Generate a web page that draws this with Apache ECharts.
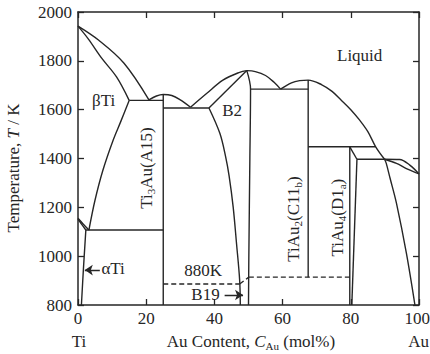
<!DOCTYPE html>
<html>
<head>
<meta charset="utf-8">
<script src="https://cdn.jsdelivr.net/npm/echarts@6/dist/echarts.min.js"></script>
<style>
  html, body { margin: 0; padding: 0; background: #fff; }
  #chart { width: 430px; height: 354px; }
</style>
</head>
<body>
<div id="chart"></div>
<script>
(() => {
  // phase boundaries, [Au mol%, T in K]
  const tiLiquidus = [[0, 1942], [6, 1885], [13.5, 1790], [20.8, 1640]];
  const tiSolidus = [[0, 1942], [3, 1890], [7, 1810], [11.3, 1734], [15, 1638]];
  const betaTransus = [[15, 1638], [12.5, 1550], [10.3, 1475], [7.3, 1352], [5, 1230], [3.2, 1107]];
  const peritecticBeta = [[15, 1638], [25, 1638]];
  const a15Liquidus = [[20.8, 1640], [23, 1656], [25, 1662], [27.5, 1658], [30, 1640], [33, 1610]];
  const a15Line = [[25, 1662], [25, 800]];
  const eutecticA15B2 = [[25, 1607], [38.4, 1607]];
  const b2LiquidusLeft = [[33, 1610], [37.7, 1666], [42.5, 1721], [47.4, 1753], [49.5, 1760]];
  const b2SolidusLeft = [[38.4, 1607], [49.5, 1760]];
  const b2LeftBoundary = [[38.4, 1607], [41.6, 1503], [43.3, 1407], [44.3, 1330], [45.5, 1202], [46.5, 1050], [47.4, 903], [47.6, 800]];
  const b2RightBoundary = [[49.5, 1760], [50.6, 1684], [50.4, 1400], [50.1, 1000], [50, 800]];
  const b2LiquidusRight = [[49.5, 1760], [52, 1756], [55, 1740], [57.5, 1712], [59.4, 1684]];
  const eutecticB2C11 = [[50.6, 1684], [67.5, 1684]];
  const c11Liquidus = [[59.4, 1684], [62.6, 1710], [65, 1719], [67.5, 1721], [71.5, 1702], [74.5, 1675], [77.2, 1639], [80, 1600], [82.6, 1557], [85, 1510], [87.3, 1448], [89.9, 1397]];
  const c11Line = [[67.5, 1721], [67.5, 914]];
  const peritecticD1a = [[67.5, 1448], [87.3, 1448]];
  const d1aLeft = [[79.7, 1448], [79.7, 800]];
  const d1aTop = [[79.7, 1448], [81.8, 1397]];
  const d1aRight = [[81.8, 1397], [80.3, 800]];
  const peritecticAu = [[81.8, 1397], [89.9, 1397]];
  const auSolvus = [[89.9, 1397], [90.4, 1380], [91.5, 1320], [93.4, 1216], [96.3, 1012], [98.8, 800]];
  const auLiquidus = [[89.9, 1397], [94.3, 1396], [97.3, 1373], [100, 1337]];
  const auSolidus = [[89.9, 1397], [93.4, 1380], [96.3, 1359], [100, 1337]];
  const alphaBetaUpper = [[0, 1155], [1.5, 1132], [3.2, 1107]];
  const alphaBetaLower = [[0, 1152], [1.2, 1128], [2.3, 1107]];
  const eutectoid = [[2.3, 1107], [25, 1107]];
  const alphaSolvus = [[2.3, 1107], [1.6, 950], [1, 800]];
  const b19Transition = [[25, 886], [47.4, 886]];
  const c11Transition = [[50.1, 914], [79.7, 914]];
  const b19Link = [[47.4, 886], [50.1, 914]];

  const xTicks = [0, 20, 40, 60, 80, 100];
  const yTicks = [800, 1000, 1200, 1400, 1600, 1800, 2000];

  const solidCurves = [tiLiquidus, tiSolidus, betaTransus, a15Liquidus, b2LiquidusLeft, b2LeftBoundary,
    b2RightBoundary, b2LiquidusRight, c11Liquidus, auSolvus, auLiquidus, auSolidus, alphaBetaUpper,
    alphaBetaLower, alphaSolvus];
  const solidLines = [peritecticBeta, a15Line, eutecticA15B2, b2SolidusLeft, eutecticB2C11, c11Line,
    peritecticD1a, d1aLeft, d1aTop, d1aRight, peritecticAu, eutectoid];
  const dashedLines = [b19Transition, c11Transition, b19Link];

  // text anchors in data coordinates
  const phaseLabels = [
    { at: [82.6, 1823], text: "{n|Liquid}" },
    { at: [7.5, 1639], text: "{n|βTi}" },
    { at: [45.2, 1598], text: "{n|B2}" },
    { at: [36.7, 943], text: "{n|880K}" },
    { at: [37.4, 845], text: "{n|B19}" },
    { at: [10.3, 951], text: "{n|αTi}" },
    { at: [20.2, 1361], text: "{n|Ti}{s|3}{n|Au(A15)}", rotate: 90 },
    { at: [63.3, 1152], text: "{n|TiAu}{s|2}{n|(C11}{s|b}{n|)}", rotate: 90 },
    { at: [76.2, 1158], text: "{n|TiAu}{s|4}{n|(D1}{s|a}{n|)}", rotate: 90 }
  ];
  const arrows = [
    [[6.4, 943], [2.0, 943]],
    [[43.0, 841], [48.4, 841]]
  ];

  const ink = "#262626";
  const font = "Liberation Serif";
  const rich = {
    n: { fontFamily: font, fontSize: 17, fill: ink },
    s: { fontFamily: font, fontSize: 11, fill: ink, padding: [9, 0, 0, 0] },
    i: { fontFamily: font, fontSize: 17, fill: ink, fontStyle: "italic" }
  };

  function lineSeries(data, smooth, dashed) {
    return {
      type: "line",
      data: data,
      smooth: smooth ? 0.35 : false,
      showSymbol: false,
      symbol: "none",
      silent: true,
      clip: true,
      lineStyle: { color: ink, width: 1.4, type: dashed ? [5, 3] : "solid" }
    };
  }

  const series = [];
  solidCurves.forEach((d) => series.push(lineSeries(d, true, false)));
  solidLines.forEach((d) => series.push(lineSeries(d, false, false)));
  dashedLines.forEach((d) => series.push(lineSeries(d, false, true)));

  series.push({
    type: "lines",
    coordinateSystem: "cartesian2d",
    silent: true,
    symbol: ["none", "arrow"],
    symbolSize: [7, 8],
    lineStyle: { color: ink, width: 1.4, opacity: 1 },
    data: arrows.map((a) => ({ coords: a }))
  });

  const axisBase = {
    type: "value",
    axisLine: { show: true, onZero: false, lineStyle: { color: ink, width: 1.5 } },
    axisTick: { show: true, inside: true, length: 6, lineStyle: { color: ink, width: 1.3 } },
    axisLabel: { show: false },
    splitLine: { show: false }
  };

  const chart = echarts.init(document.getElementById("chart"), null, { renderer: "svg" });
  chart.setOption({
    animation: false,
    backgroundColor: "#fff",
    grid: { left: 78, right: 11, top: 12, bottom: 49 },
    xAxis: [
      Object.assign({}, axisBase, { min: xTicks[0], max: xTicks[xTicks.length - 1], interval: 20, position: "bottom" }),
      Object.assign({}, axisBase, { min: xTicks[0], max: xTicks[xTicks.length - 1], interval: 20, position: "top" })
    ],
    yAxis: [
      Object.assign({}, axisBase, { min: yTicks[0], max: yTicks[yTicks.length - 1], interval: 200, position: "left" }),
      Object.assign({}, axisBase, { min: yTicks[0], max: yTicks[yTicks.length - 1], interval: 200, position: "right" })
    ],
    series: series
  });

  // all text drawn as graphic text, placed through the chart's own scales
  function textAt(x, y, text, align, rotation) {
    return {
      type: "text", x: x, y: y, rotation: rotation || 0, silent: true,
      style: { text: text, rich: rich, align: align || "center", verticalAlign: "middle" }
    };
  }
  const toPx = (point) => chart.convertToPixel({ xAxisIndex: 0, yAxisIndex: 0 }, point);
  const plotBottom = toPx([0, yTicks[0]])[1];
  const plotLeft = toPx([xTicks[0], yTicks[0]])[0];

  const texts = [];
  xTicks.forEach((v, i) => {
    const last = i === xTicks.length - 1;
    // the last label is pulled in so it stays inside the picture
    texts.push(textAt(last ? 430 : toPx([v, yTicks[0]])[0], plotBottom + 13, "{n|" + v + "}", last ? "right" : "center"));
  });
  yTicks.forEach((v) => texts.push(textAt(plotLeft - 6, toPx([xTicks[0], v])[1], "{n|" + v + "}", "right")));
  phaseLabels.forEach((l) => {
    const p = toPx(l.at);
    texts.push(textAt(p[0], p[1], l.text, "center", l.rotate ? Math.PI / 2 : 0));
  });
  texts.push(textAt(13, 168, "{n|Temperature, }{i|T}{n| / K}", "center", Math.PI / 2));
  texts.push(textAt(79, 341, "{n|Ti}"));
  texts.push(textAt(251, 341, "{n|Au Content, }{i|C}{s|Au}{n| (mol%)}"));
  texts.push(textAt(429, 341, "{n|Au}", "right"));

  chart.setOption({ graphic: texts });
})();
</script>
</body>
</html>
